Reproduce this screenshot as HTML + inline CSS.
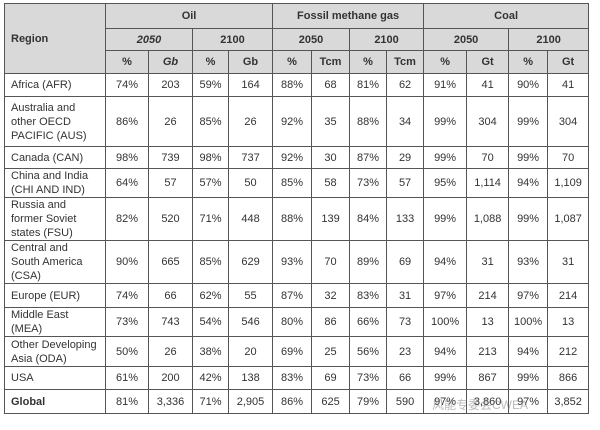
<!DOCTYPE html>
<html><head><meta charset="utf-8"><style>
body{margin:0;background:#fff;width:600px;height:430px;overflow:hidden;position:relative;font-family:"Liberation Sans","Noto Sans CJK SC",sans-serif;}
table{position:absolute;left:4px;top:3px;border-collapse:collapse;table-layout:fixed;width:584px;font-size:11px;color:#333;}
td{border:1px solid #555;padding:0;text-align:center;vertical-align:middle;line-height:14px;overflow:hidden;white-space:nowrap;}
td.l{text-align:left;padding-left:6px;}
.h td{background:#d9d9d9;font-weight:bold;color:#333;}
.b{font-weight:bold;}
i{font-style:italic;}
.wm{position:absolute;left:432px;top:396px;font-size:12px;color:rgba(120,120,120,0.5);}
</style></head><body>
<table>
<colgroup><col style="width:101px"><col style="width:43px"><col style="width:44px"><col style="width:36px"><col style="width:44px"><col style="width:39px"><col style="width:38px"><col style="width:37px"><col style="width:37px"><col style="width:43px"><col style="width:42px"><col style="width:39px"><col style="width:41px"></colgroup>
<tr class="h" style="height:25px"><td class="l" rowspan="3">Region</td><td colspan="4">Oil</td><td colspan="4">Fossil methane gas</td><td colspan="4">Coal</td></tr>
<tr class="h" style="height:22px"><td colspan="2"><i>2050</i></td><td colspan="2">2100</td><td colspan="2">2050</td><td colspan="2">2100</td><td colspan="2">2050</td><td colspan="2">2100</td></tr>
<tr class="h" style="height:23px"><td>%</td><td><i>Gb</i></td><td>%</td><td>Gb</td><td>%</td><td>Tcm</td><td>%</td><td>Tcm</td><td>%</td><td>Gt</td><td>%</td><td>Gt</td></tr>
<tr style="height:23px"><td class="l">Africa (AFR)</td><td>74%</td><td>203</td><td>59%</td><td>164</td><td>88%</td><td>68</td><td>81%</td><td>62</td><td>91%</td><td>41</td><td>90%</td><td>41</td></tr>
<tr style="height:50px"><td class="l">Australia and<br>other OECD<br>PACIFIC (AUS)</td><td>86%</td><td>26</td><td>85%</td><td>26</td><td>92%</td><td>35</td><td>88%</td><td>34</td><td>99%</td><td>304</td><td>99%</td><td>304</td></tr>
<tr style="height:22px"><td class="l">Canada (CAN)</td><td>98%</td><td>739</td><td>98%</td><td>737</td><td>92%</td><td>30</td><td>87%</td><td>29</td><td>99%</td><td>70</td><td>99%</td><td>70</td></tr>
<tr style="height:29px"><td class="l">China and India<br>(CHI AND IND)</td><td>64%</td><td>57</td><td>57%</td><td>50</td><td>85%</td><td>58</td><td>73%</td><td>57</td><td>95%</td><td>1,114</td><td>94%</td><td>1,109</td></tr>
<tr style="height:42px"><td class="l">Russia and<br>former Soviet<br>states (FSU)</td><td>82%</td><td>520</td><td>71%</td><td>448</td><td>88%</td><td>139</td><td>84%</td><td>133</td><td>99%</td><td>1,088</td><td>99%</td><td>1,087</td></tr>
<tr style="height:42px"><td class="l">Central and<br>South America<br>(CSA)</td><td>90%</td><td>665</td><td>85%</td><td>629</td><td>93%</td><td>70</td><td>89%</td><td>69</td><td>94%</td><td>31</td><td>93%</td><td>31</td></tr>
<tr style="height:24px"><td class="l">Europe (EUR)</td><td>74%</td><td>66</td><td>62%</td><td>55</td><td>87%</td><td>32</td><td>83%</td><td>31</td><td>97%</td><td>214</td><td>97%</td><td>214</td></tr>
<tr style="height:29px"><td class="l">Middle East<br>(MEA)</td><td>73%</td><td>743</td><td>54%</td><td>546</td><td>80%</td><td>86</td><td>66%</td><td>73</td><td>100%</td><td>13</td><td>100%</td><td>13</td></tr>
<tr style="height:30px"><td class="l">Other Developing<br>Asia (ODA)</td><td>50%</td><td>26</td><td>38%</td><td>20</td><td>69%</td><td>25</td><td>56%</td><td>23</td><td>94%</td><td>213</td><td>94%</td><td>212</td></tr>
<tr style="height:23px"><td class="l">USA</td><td>61%</td><td>200</td><td>42%</td><td>138</td><td>83%</td><td>69</td><td>73%</td><td>66</td><td>99%</td><td>867</td><td>99%</td><td>866</td></tr>
<tr style="height:24px"><td class="l b">Global</td><td>81%</td><td>3,336</td><td>71%</td><td>2,905</td><td>86%</td><td>625</td><td>79%</td><td>590</td><td>97%</td><td>3,860</td><td>97%</td><td>3,852</td></tr>
</table>
<div class="wm">风能专委会CWEA</div>
</body></html>
